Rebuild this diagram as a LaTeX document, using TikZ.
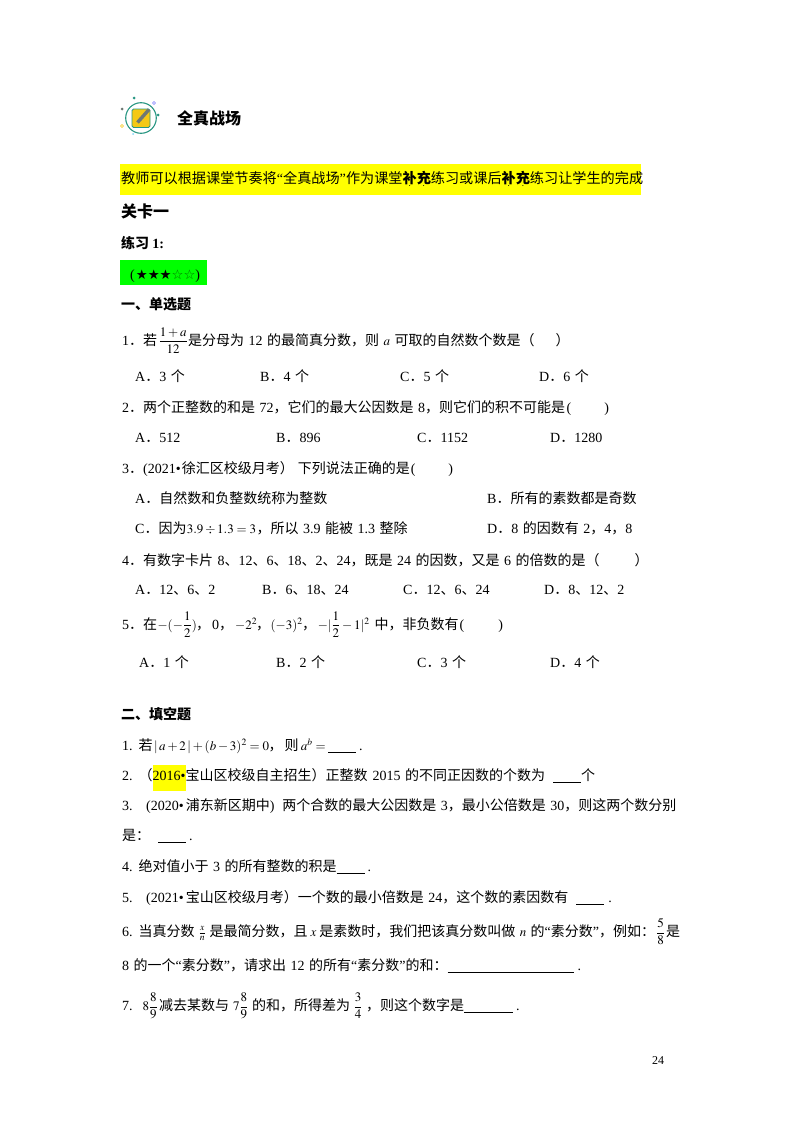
\documentclass[tikz,border=0pt]{standalone}
\usepackage{amsmath}
\usepackage{mathptmx}
\usepackage[no-math]{fontspec}
\setmainfont{Noto Sans CJK SC}
\newfontfamily\lat{Liberation Serif}
\newfontfamily\sym{DejaVu Sans}
\newcommand{\num}[1]{{\lat #1}}
\newcommand{\mth}[2]{\makebox[#1pt]{\fontsize{13}{15}\selectfont$#2$}}
\newcommand{\blank}[1]{\rule[-2.5pt]{#1pt}{0.5pt}}
\newcommand{\emdot}[1]{\ooalign{#1\cr\hidewidth\raisebox{-3.5pt}{\tiny.}\hidewidth\cr}}
\newcommand{\linefont}{\fontsize{14}{16}\selectfont\setlength{\spaceskip}{4.5pt}}
\definecolor{markyellow}{RGB}{255,255,0}
\definecolor{markgreen}{RGB}{0,255,0}
\definecolor{iconteal}{RGB}{40,150,130}
\definecolor{icongold}{RGB}{245,200,20}
\definecolor{icongray}{RGB}{110,120,115}
\begin{document}
\begin{tikzpicture}[x=1pt,y=-1pt,
	line/.style = {anchor=base west,inner sep=0pt,font=\linefont},
	head/.style = {line,font=\fontsize{14}{16}\selectfont\bfseries},
	small/.style = {circle,inner sep=0pt,minimum size=3pt}]
	\useasboundingbox (0,0) rectangle (800,1132);
	%Icon in front of the title
	\draw[iconteal,line width=1.1pt] (141,118) circle (15.3);
	\fill[icongold,draw=iconteal,line width=0.8pt,rounded corners=1.5pt] (132,109) rectangle (150,127.5);
	\draw[icongray,line width=3.4pt] (137.5,122.5) -- (149,109.5);
	\node[small,fill=iconteal] (dot1) at (134,98) {};
	\node[small,fill=icongray] (dot2) at (122,109) {};
	\node[small,draw=blue!50!white] (dot3) at (154,103) {};
	\node[small,fill=iconteal] (dot4) at (158,115) {};
	\node[small,draw=icongold] (dot5) at (122,126) {};
	\node[small,minimum size=2pt,fill=cyan!50!white] (dot6) at (133,134) {};
	%Marked areas
	\fill[markyellow] (120,164) rectangle (641,195);
	\fill[markgreen] (120,260) rectangle (207,285);
	\fill[markyellow] (153,765) rectangle (186,791);
	%Title and headings
	\node[head,font=\fontsize{16}{18}\selectfont\bfseries] (title) at (177,124) {全真战场};
	\node[line,font=\fontsize{14.15}{16}\selectfont] (note) at (121,183) {教师可以根据课堂节奏将\num{“}全真战场\num{”}作为课堂\textbf{\emdot{补}\emdot{充}}练习或课后\textbf{\emdot{补}\emdot{充}}练习让学生的完成};
	\node[head,font=\fontsize{16}{18}\selectfont\bfseries] (level) at (121,217) {关卡一};
	\node[head] (practice) at (121,248) {练习 \num{1:}};
	\node[line] (stars) at (130,279) {\num{(}\hspace{1pt}{\sym\fontsize{13.3}{15}\selectfont ★★★\textcolor{green!45!black}{☆☆}}\num{)}};
	\node[head] (part1) at (121,309) {一、单选题};
	%Question 1
	\node[line] (q1) at (122,345) {\num{1}．若\hspace{1pt}\mth{30}{\dfrac{1+a}{12}}是分母为 \num{12} 的最简真分数，则 \mth{6.5}{a} 可取的自然数个数是（\hspace{21pt}）};
	\node[line] (q1a) at (135,381) {\num{A}．\num{3} 个};
	\node[line] (q1b) at (260,381) {\num{B}．\num{4} 个};
	\node[line] (q1c) at (400,381) {\num{C}．\num{5} 个};
	\node[line] (q1d) at (539,381) {\num{D}．\num{6} 个};
	%Question 2
	\node[line] (q2) at (122,412) {\num{2}．两个正整数的和是 \num{72}，它们的最大公因数是 \num{8}，则它们的积不可能是\hspace{1.5pt}\num{(}\hspace{33pt}\num{)}};
	\node[line] (q2a) at (135,442) {\num{A}．\num{512}};
	\node[line] (q2b) at (276,442) {\num{B}．\num{896}};
	\node[line] (q2c) at (417,442) {\num{C}．\num{1152}};
	\node[line] (q2d) at (550,442) {\num{D}．\num{1280}};
	%Question 3
	\node[line] (q3) at (122,473) {\num{3}．\num{(2021•}\hspace{1pt}徐汇区校级月考）\hspace{4pt}下列说法正确的是\hspace{1pt}\num{(}\hspace{33pt}\num{)}};
	\node[line] (q3a) at (135,503) {\num{A}．自然数和负整数统称为整数};
	\node[line] (q3b) at (487,503) {\num{B}．所有的素数都是奇数};
	\node[line] (q3c) at (135,533) {\num{C}．因为\mth{70}{3.9\div1.3=3}，所以 \num{3.9} 能被 \num{1.3} 整除};
	\node[line] (q3d) at (487,533) {\num{D}．\num{8} 的因数有 \num{2}，\num{4}，\num{8}};
	%Question 4
	\node[line] (q4) at (122,565) {\num{4}．有数字卡片 \num{8}、\num{12}、\num{6}、\num{18}、\num{2}、\num{24}，既是 \num{24} 的因数，又是 \num{6} 的倍数的是（\hspace{35pt}）};
	\node[line] (q4a) at (135,594) {\num{A}．\num{12}、\num{6}、\num{2}};
	\node[line] (q4b) at (262,594) {\num{B}．\num{6}、\num{18}、\num{24}};
	\node[line] (q4c) at (403,594) {\num{C}．\num{12}、\num{6}、\num{24}};
	\node[line] (q4d) at (544,594) {\num{D}．\num{8}、\num{12}、\num{2}};
	%Question 5
	\node[line] (q5) at (122,629) {\num{5}．在\hspace{1pt}\mth{38}{-(-\dfrac{1}{2})}，\hspace{2pt}\num{0}，\hspace{3pt}\mth{20}{-2^2}，\hspace{1pt}\mth{31}{(-3)^2}，\hspace{1pt}\mth{53}{-|\dfrac{1}{2}-1|^2} 中，非负数有\hspace{1pt}\num{(}\hspace{34pt}\num{)}};
	\node[line] (q5a) at (139,667) {\num{A}．\num{1} 个};
	\node[line] (q5b) at (276,667) {\num{B}．\num{2} 个};
	\node[line] (q5c) at (417,667) {\num{C}．\num{3} 个};
	\node[line] (q5d) at (550,667) {\num{D}．\num{4} 个};
	%Fill in the blanks
	\node[head] (part2) at (121,719) {二、填空题};
	\node[line] (f1) at (122,750) {\num{1.}\hspace{6pt}若\hspace{2pt}\mth{114}{|\,a+2\,|+(b-3)^2=0}，\hspace{2pt}则\hspace{2pt}\mth{25}{a^b=}\hspace{2.5pt}\blank{28}\hspace{3pt}\num{.}};
	\node[line] (f2) at (122,780) {\num{2.}\hspace{6pt}（\num{2016•}宝山区校级自主招生）正整数\hspace{5pt}\num{2015} 的不同正因数的个数为\hspace{8pt}\blank{28}个};
	\node[line] (f3) at (122,810) {\num{3.}\hspace{13.5pt}\num{(2020•}\hspace{2pt}浦东新区期中\num{)}\hspace{8pt}两个合数的最大公因数是 \num{3}，最小公倍数是 \num{30}，则这两个数分别};
	\node[line] (f3b) at (122,840) {是：\hspace{8pt}\blank{28}\hspace{3pt}\num{.}};
	\node[line] (f4) at (122,871) {\num{4.}\hspace{6pt}绝对值小于 \num{3} 的所有整数的积是\blank{28}\hspace{3pt}\num{.}};
	\node[line] (f5) at (122,902) {\num{5.}\hspace{13.5pt}\num{(2021•}\hspace{2pt}宝山区校级月考）一个数的最小倍数是 \num{24}，这个数的素因数有\hspace{8pt}\blank{28}\hspace{4pt}\num{.}};
	\node[line] (f6) at (122,936) {\num{6.}\hspace{6pt}当真分数\mth{15}{\frac{x}{n}}是最简分数，且\mth{11.6}{x}是素数时，我们把该真分数叫做\mth{15.4}{n}的\num{“}素分数\num{”}，例如：\mth{11}{\dfrac{5}{8}}是};
	\node[line] (f6b) at (122,970) {\num{8} 的一个\num{“}素分数\num{”}，请求出 \num{12} 的所有\num{“}素分数\num{”}的和：\blank{126}\hspace{4pt}\num{.}};
	\node[line] (f7) at (122,1010) {\num{7.}\hspace{8.5pt}\mth{18}{8\dfrac{8}{9}}减去某数与\mth{23}{7\dfrac{8}{9}}的和，所得差为\hspace{2pt}\mth{12}{\dfrac{3}{4}}\hspace{2pt}，则这个数字是\blank{49}\hspace{3pt}\num{.}};
	%Page number
	\node[line,font=\fontsize{12}{14}\selectfont] (page) at (652,1064) {\num{24}};
\end{tikzpicture}
\end{document}
